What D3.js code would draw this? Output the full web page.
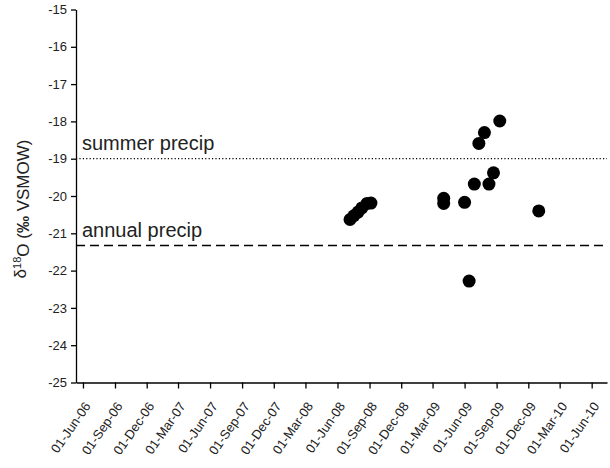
<!DOCTYPE html>
<meta charset="utf-8">
<style>

body {
	margin: 0;
	background: white;
}

.canvas text {
	font-family: "Liberation Sans", Arial, sans-serif;
	fill: #222;
}

.axis path,
.axis line {
	stroke: black;
	stroke-width: 1.3;
	fill: none;
}

.axis text {
	font-size: 13px;
	fill: #222;
}

.refline {
	stroke: black;
	fill: none;
}

.dot {
	fill: black;
}

.note {
	font-size: 20px;
}

</style>
<svg class="canvas"></svg>
<script src="https://cdn.jsdelivr.net/npm/d3@7"></script>
<script>

// sampling dates and delta-18O values (per mil VSMOW)
var sampleDates = [
	"2008-07-07","2008-07-18","2008-07-30","2008-08-10","2008-08-25","2008-09-05",
	"2009-04-02","2009-04-02","2009-06-01","2009-06-14","2009-06-29","2009-07-12",
	"2009-07-28","2009-08-10","2009-08-23","2009-09-10","2009-12-31"
];
var d18O = [
	-20.63, -20.53, -20.43, -20.32, -20.20, -20.19,
	-20.06, -20.20, -20.17, -22.28, -19.68, -18.59,
	-18.30, -19.68, -19.38, -17.99, -20.40
];

// reference precipitation values
var refNames = ["summer precip", "annual precip"];
var refValues = [-19, -21.33];

var yTicks = [-15, -16, -17, -18, -19, -20, -21, -22, -23, -24, -25];
var xTickDates = [
	"2006-06-01","2006-09-01","2006-12-01","2007-03-01","2007-06-01","2007-09-01",
	"2007-12-01","2008-03-01","2008-06-01","2008-09-01","2008-12-01","2009-03-01",
	"2009-06-01","2009-09-01","2009-12-01","2010-03-01","2010-06-01"
];

var width = 610,
	height = 468;

var X0 = 76, X1 = 607;
var Y0 = 9.5, Y1 = 382.5;
var R = 6.5;

var parse = d3.timeParse("%Y-%m-%d");

var canvas = d3.select(".canvas")
	.attr("width", width)
	.attr("height", height);

var x = d3.scaleTime()
	.domain([parse("2006-05-12"), parse("2010-07-15")])
	.range([X0, X1]);

var y = d3.scaleLinear()
	.domain([-25, -15])
	.range([Y1, Y0]);

// reference lines
canvas.append("line")
	.attr("class", "refline")
	.attr("x1", X0).attr("x2", X1)
	.attr("y1", y(refValues[0])).attr("y2", y(refValues[0]))
	.attr("stroke-width", 1.2)
	.attr("stroke-dasharray", "1.2,2.2");

canvas.append("line")
	.attr("class", "refline")
	.attr("x1", X0).attr("x2", X1)
	.attr("y1", y(refValues[1])).attr("y2", y(refValues[1]))
	.attr("stroke-width", 1.5)
	.attr("stroke-dasharray", "9,5");

canvas.selectAll(".note").data(refNames)
	.enter().append("text")
	.attr("class", "note")
	.attr("x", X0 + 6)
	.attr("y", function(d, i) { return y(refValues[i]) - 9; })
	.text(function(d) { return d; });

// axes (plain hyphen for negatives, as in the original)
var yAxis = d3.axisLeft(y)
	.tickValues(yTicks)
	.tickFormat(function(d) { return String(d); })
	.tickSize(5)
	.tickPadding(4)
	.tickSizeOuter(0);

canvas.append("g")
	.attr("class", "axis")
	.attr("transform", "translate(" + X0 + ",0)")
	.call(yAxis);

var xAxis = d3.axisBottom(x)
	.tickValues(xTickDates.map(parse))
	.tickFormat(d3.timeFormat("%d-%b-%y"))
	.tickSize(6)
	.tickSizeOuter(0);

var gx = canvas.append("g")
	.attr("class", "axis")
	.attr("transform", "translate(0," + Y1 + ")")
	.call(xAxis);

gx.selectAll("text")
	.attr("text-anchor", "end")
	.attr("x", 0)
	.attr("y", 0)
	.attr("dx", 0)
	.attr("dy", "0.35em")
	.attr("transform", "translate(4,21) rotate(-55)");

// y axis title
var title = canvas.append("text")
	.attr("transform", "translate(26,209) rotate(-90)")
	.attr("text-anchor", "middle")
	.style("font-size", "17px");

title.append("tspan").text("\u03b4");
title.append("tspan").attr("dy", "-0.45em").style("font-size", "11px").text("18");
title.append("tspan").attr("dy", "0.45em").text("O (");
title.append("tspan").style("font-weight", "bold").text("\u2030");
title.append("tspan").text(" VSMOW)");

// samples
canvas.selectAll(".dot").data(d18O)
	.enter().append("circle")
	.attr("class", "dot")
	.attr("cx", function(d, i) { return x(parse(sampleDates[i])); })
	.attr("cy", function(d) { return y(d); })
	.attr("r", R);

</script>
